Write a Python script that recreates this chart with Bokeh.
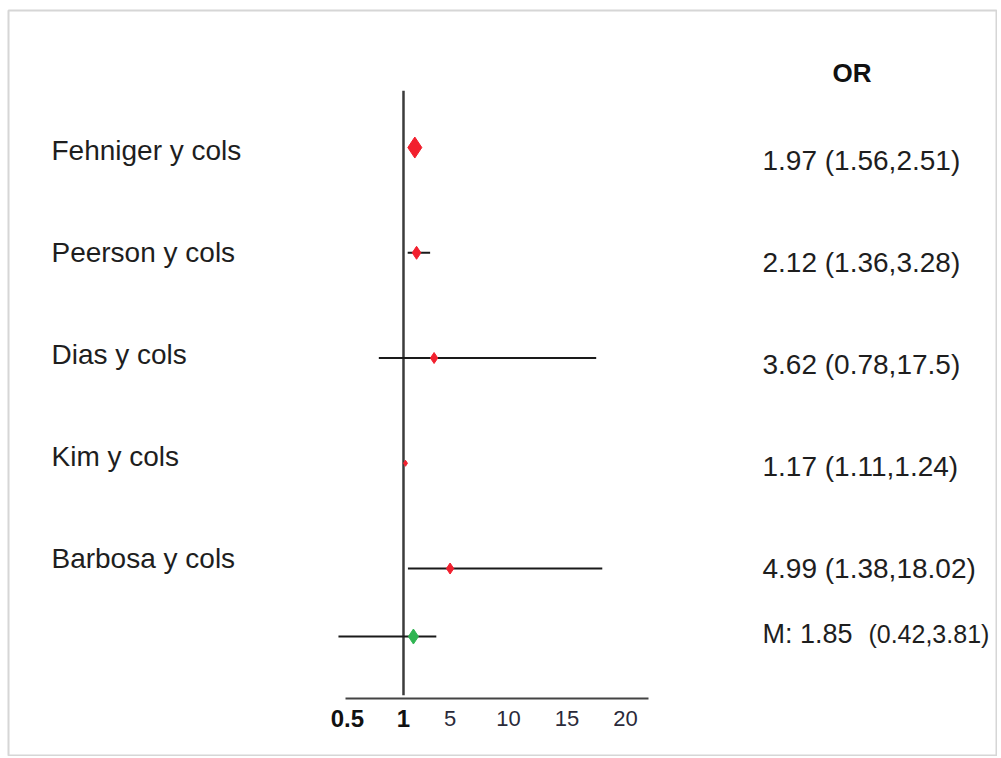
import numpy as np
from bokeh.plotting import figure
from bokeh.models import (ColumnDataSource, Range1d, LinearAxis, FixedTicker,
                          CustomJSTickFormatter, CustomJSTransform)
from bokeh.transform import transform
from bokeh.core.properties import value
from bokeh.embed import file_html
from bokeh.resources import INLINE

# ---------------- data ----------------
studies = ["Fehniger y cols", "Peerson y cols", "Dias y cols", "Kim y cols", "Barbosa y cols"]
or_vals = [1.97, 2.12, 3.62, 1.17, 4.99]
ci_low = [1.56, 1.36, 0.78, 1.11, 1.38]
ci_high = [2.51, 3.28, 17.5, 1.24, 18.02]

pooled_label = "M"
pooled_or = 1.85
pooled_low = 0.42
pooled_high = 3.81

tick_bold = [0.5, 1]
tick_normal = [5, 10, 15, 20]
header = "OR"

# ---------------- styles ----------------
marker_sizes = [21, 13, 11, 6, 11]
FONT = "Liberation Sans"
TXT = "#1e1e1e"
K = 9.6  # stretch factor of the axis below 1 (as in the original figure)


def axis_pos(v):
    v = np.asarray(v, dtype=float)
    return np.where(v < 1, 1 - (1 - v) * K, v)


stretch = CustomJSTransform(args=dict(K=K), v_func="""
    return xs.map(v => v < 1 ? 1 - (1 - v) * K : v)
""")

n = len(studies)
row_y = np.arange(n, 0, -1).astype(float)
m_y = 0.354
axis_y = -0.235
text_step = 0.969  # text rows are slightly tighter than the marker rows

src = ColumnDataSource(dict(
    study=studies, orv=or_vals, lo=ci_low, hi=ci_high, y=row_y,
    size=marker_sizes,
    name_y=1.095 + (row_y - 1) * text_step,
    or_y=1.0 + (row_y - 1) * text_step,
    or_txt=[f"{o:g} ({l:g},{h:g})" for o, l, h in zip(or_vals, ci_low, ci_high)],
))
psrc = ColumnDataSource(dict(orv=[pooled_or], lo=[pooled_low], hi=[pooled_high], y=[m_y]))

p = figure(width=997, height=756, output_backend="svg", toolbar_location=None,
           x_axis_type=None, y_axis_type=None,
           x_range=Range1d(-32.82, 51.86), y_range=Range1d(-0.786, 6.302),
           min_border_left=8, min_border_top=10, min_border_right=0, min_border_bottom=0)
p.outline_line_color = "#d6d6d6"
p.outline_line_width = 2
p.background_fill_color = "white"
p.border_fill_color = "white"

# reference line at OR = 1
p.segment(x0=1, x1=1, y0=axis_y + 0.03, y1=5.54, line_color="#3c3c3c", line_width=2.5)

# confidence intervals
p.segment(x0=transform("lo", stretch), x1=transform("hi", stretch), y0="y", y1="y",
          source=src, line_color="#1a1a1a", line_width=2)
p.segment(x0=transform("lo", stretch), x1=transform("hi", stretch), y0="y", y1="y",
          source=psrc, line_color="#1a1a1a", line_width=2)

# point estimates
p.scatter(x=transform("orv", stretch), y="y", size="size", marker="diamond",
          source=src, fill_color="#f2202e", line_color="#f2202e")
p.scatter(x=transform("orv", stretch), y="y", size=15, marker="diamond",
          source=psrc, fill_color="#2fb552", line_color="#2fb552")

# study names
p.text(x=-29.14, y="name_y", text="study", source=src, text_font=value(FONT),
       text_font_size="28px", text_color=TXT, text_align="left", text_baseline="middle")

# OR texts
p.text(x=31.74, y="or_y", text="or_txt", source=src, text_font=value(FONT),
       text_font_size="28px", text_color=TXT, text_align="left", text_baseline="middle")
p.text(x=[31.74], y=[m_y + 0.02], text=[f"{pooled_label}: {pooled_or:g}"], text_font=value(FONT),
       text_font_size="27px", text_color=TXT, text_align="left", text_baseline="middle")
p.text(x=[40.81], y=[m_y + 0.02], text=[f"({pooled_low:g},{pooled_high:g})"], text_font=value(FONT),
       text_font_size="25px", text_color=TXT, text_align="left", text_baseline="middle")

# header
p.text(x=[39.4], y=[5.71], text=[header], text_font=value(FONT), text_font_size="26px",
       text_font_style="bold", text_color="#111111", text_align="center", text_baseline="middle")

# x axis (two axes at the same place for bold / normal labels)
fmt = CustomJSTickFormatter(args=dict(K=K), code="""
    const v = tick < 1 ? 1 - (1 - tick) / K : tick;
    return String(Math.round(v * 100) / 100);
""")
bounds = (float(axis_pos(0.5)) - 0.15, 21.98)

ax_b = LinearAxis(fixed_location=axis_y, bounds=bounds,
                  ticker=FixedTicker(ticks=list(axis_pos(tick_bold))), formatter=fmt,
                  major_tick_line_color=None, minor_tick_line_color=None,
                  axis_line_color="#444444", axis_line_width=2,
                  major_label_text_font=FONT, major_label_text_font_style="bold",
                  major_label_text_font_size="24px", major_label_text_color="#111111",
                  major_label_standoff=5)
ax_n = LinearAxis(fixed_location=axis_y, bounds=bounds,
                  ticker=FixedTicker(ticks=list(axis_pos(tick_normal))), formatter=fmt,
                  major_tick_line_color=None, minor_tick_line_color=None,
                  axis_line_color=None,
                  major_label_text_font=FONT, major_label_text_font_style="normal",
                  major_label_text_font_size="22px", major_label_text_color="#2a2a3a",
                  major_label_standoff=6)
p.add_layout(ax_b, "below")
p.add_layout(ax_n, "below")

open("out.html", "w").write(file_html(p, INLINE))
